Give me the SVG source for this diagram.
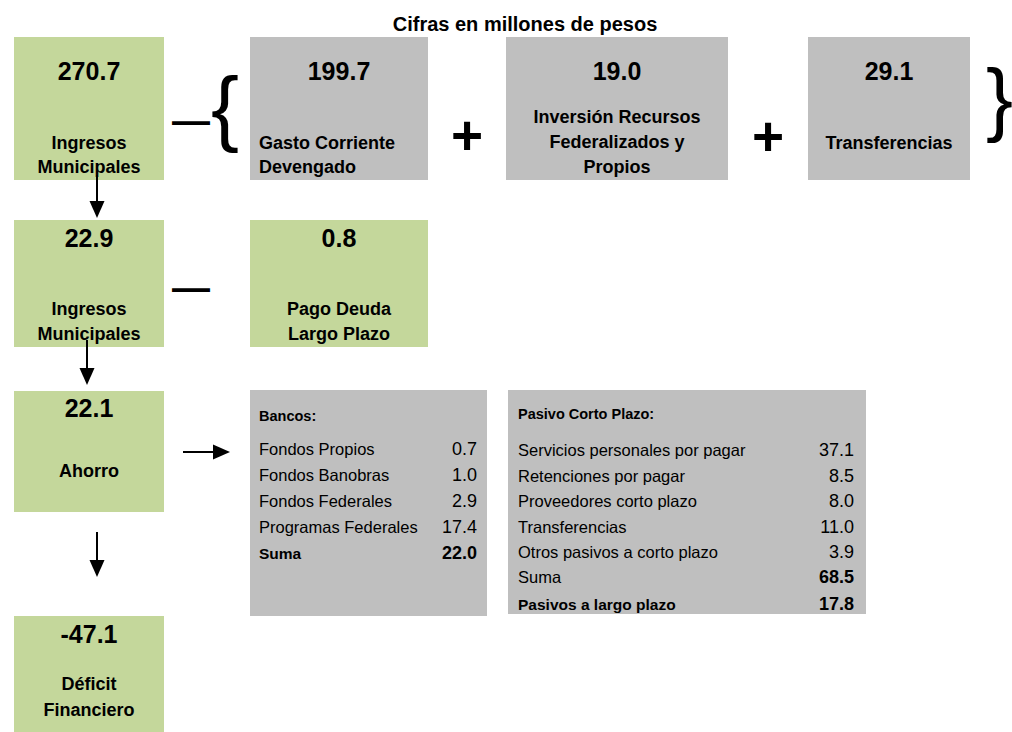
<svg xmlns="http://www.w3.org/2000/svg" width="1012" height="732" viewBox="0 0 1012 732">
<style>
text{font-family:"Liberation Sans",Arial,sans-serif;fill:#000}
.g{fill:#C4D79B}
.s{fill:#BFBFBF}
.num{font-size:25px;font-weight:bold;text-anchor:middle}
.lb{font-size:18px;font-weight:bold;text-anchor:middle}
.lbl{font-size:18px;font-weight:bold}
.hd{font-size:14.5px;font-weight:bold}
.row{font-size:16.5px}
.rowb{font-size:15.5px;font-weight:bold}
.v{font-size:18px;text-anchor:end}
.vb{font-size:18px;font-weight:bold;text-anchor:end}
.op{font-size:55px;font-weight:bold;text-anchor:middle}
.dash{font-size:38px;font-weight:bold}
.conn line{stroke:#000;stroke-width:2}
</style>
<defs>
<marker id="ah" markerUnits="userSpaceOnUse" markerWidth="17" markerHeight="16" refX="6" refY="8" orient="auto" viewBox="0 0 17 16">
<path d="M0,0.5 L17,8 L0,15.5 z" fill="#000"/>
</marker>
</defs>
<rect width="1012" height="732" fill="#fff"/>
<text id="title" x="525" y="31" font-size="20" font-weight="bold" text-anchor="middle">Cifras en millones de pesos</text>

<g id="n-ingresos1">
<rect class="g" x="14" y="37" width="150" height="143"/>
<text class="num" x="89" y="80">270.7</text>
<text class="lb" x="89" y="149">Ingresos</text>
<text class="lb" x="89" y="173">Municipales</text>
</g>
<g id="op-minus1">
<text class="dash" x="172" y="134">—</text>
<text x="211" y="136" font-size="84">{</text>
</g>
<g id="n-gasto">
<rect class="s" x="250" y="37" width="178" height="143"/>
<text class="num" x="339" y="80">199.7</text>
<text class="lbl" x="259" y="149">Gasto Corriente</text>
<text class="lbl" x="259" y="173">Devengado</text>
</g>
<text class="op" x="467" y="154">+</text>
<g id="n-inversion">
<rect class="s" x="506" y="37" width="222" height="143"/>
<text class="num" x="617" y="80">19.0</text>
<text class="lb" x="617" y="123">Inversión Recursos</text>
<text class="lb" x="617" y="148">Federalizados y</text>
<text class="lb" x="617" y="173">Propios</text>
</g>
<text class="op" x="768" y="155">+</text>
<g id="n-transf">
<rect class="s" x="808" y="37" width="162" height="143"/>
<text class="num" x="889" y="80">29.1</text>
<text class="lb" x="889" y="149">Transferencias</text>
</g>
<text x="986" y="126" font-size="81">}</text>

<g id="n-ingresos2">
<rect class="g" x="14" y="220" width="150" height="127"/>
<text class="num" x="89" y="247">22.9</text>
<text class="lb" x="89" y="315">Ingresos</text>
<text class="lb" x="89" y="340">Municipales</text>
</g>
<text class="dash" x="172" y="301">—</text>
<g id="n-pago">
<rect class="g" x="250" y="220" width="178" height="127"/>
<text class="num" x="339" y="247">0.8</text>
<text class="lb" x="339" y="315">Pago Deuda</text>
<text class="lb" x="339" y="340">Largo Plazo</text>
</g>

<g id="n-ahorro">
<rect class="g" x="14" y="391" width="150" height="121"/>
<text class="num" x="89" y="417">22.1</text>
<text class="lb" x="89" y="477">Ahorro</text>
</g>

<g id="n-bancos">
<rect class="s" x="250" y="390" width="237" height="226"/>
<text class="hd" x="259" y="421">Bancos:</text>
<text class="row" x="259" y="455">Fondos Propios</text><text class="v" x="477" y="455">0.7</text>
<text class="row" x="259" y="481">Fondos Banobras</text><text class="v" x="477" y="481">1.0</text>
<text class="row" x="259" y="507">Fondos Federales</text><text class="v" x="477" y="507">2.9</text>
<text class="row" x="259" y="533">Programas Federales</text><text class="v" x="477" y="533">17.4</text>
<text class="rowb" x="259" y="559">Suma</text><text class="vb" x="477" y="559">22.0</text>
</g>

<g id="n-pasivo">
<rect class="s" x="508" y="390" width="358" height="224"/>
<text class="hd" x="518" y="419">Pasivo Corto Plazo:</text>
<text class="row" x="518" y="456">Servicios personales por pagar</text><text class="v" x="854" y="456">37.1</text>
<text class="row" x="518" y="482">Retenciones por pagar</text><text class="v" x="854" y="482">8.5</text>
<text class="row" x="518" y="507">Proveedores corto plazo</text><text class="v" x="854" y="507">8.0</text>
<text class="row" x="518" y="533">Transferencias</text><text class="v" x="854" y="533">11.0</text>
<text class="row" x="518" y="558">Otros pasivos a corto plazo</text><text class="v" x="854" y="558">3.9</text>
<text class="row" x="518" y="583">Suma</text><text class="vb" x="854" y="583">68.5</text>
<text class="rowb" x="518" y="610">Pasivos a largo plazo</text><text class="vb" x="854" y="610">17.8</text>
</g>

<g id="n-deficit">
<rect class="g" x="14" y="616" width="150" height="116"/>
<text class="num" x="89" y="643">-47.1</text>
<text class="lb" x="89" y="690">Déficit</text>
<text class="lb" x="89" y="716">Financiero</text>
</g>

<g id="connectors" class="conn">
<line x1="97" y1="175" x2="97" y2="207" marker-end="url(#ah)"/>
<line x1="87" y1="340" x2="87" y2="374" marker-end="url(#ah)"/>
<line x1="183" y1="452" x2="219" y2="452" marker-end="url(#ah)"/>
<line x1="97" y1="532" x2="97" y2="566" marker-end="url(#ah)"/>
</g>
</svg>
